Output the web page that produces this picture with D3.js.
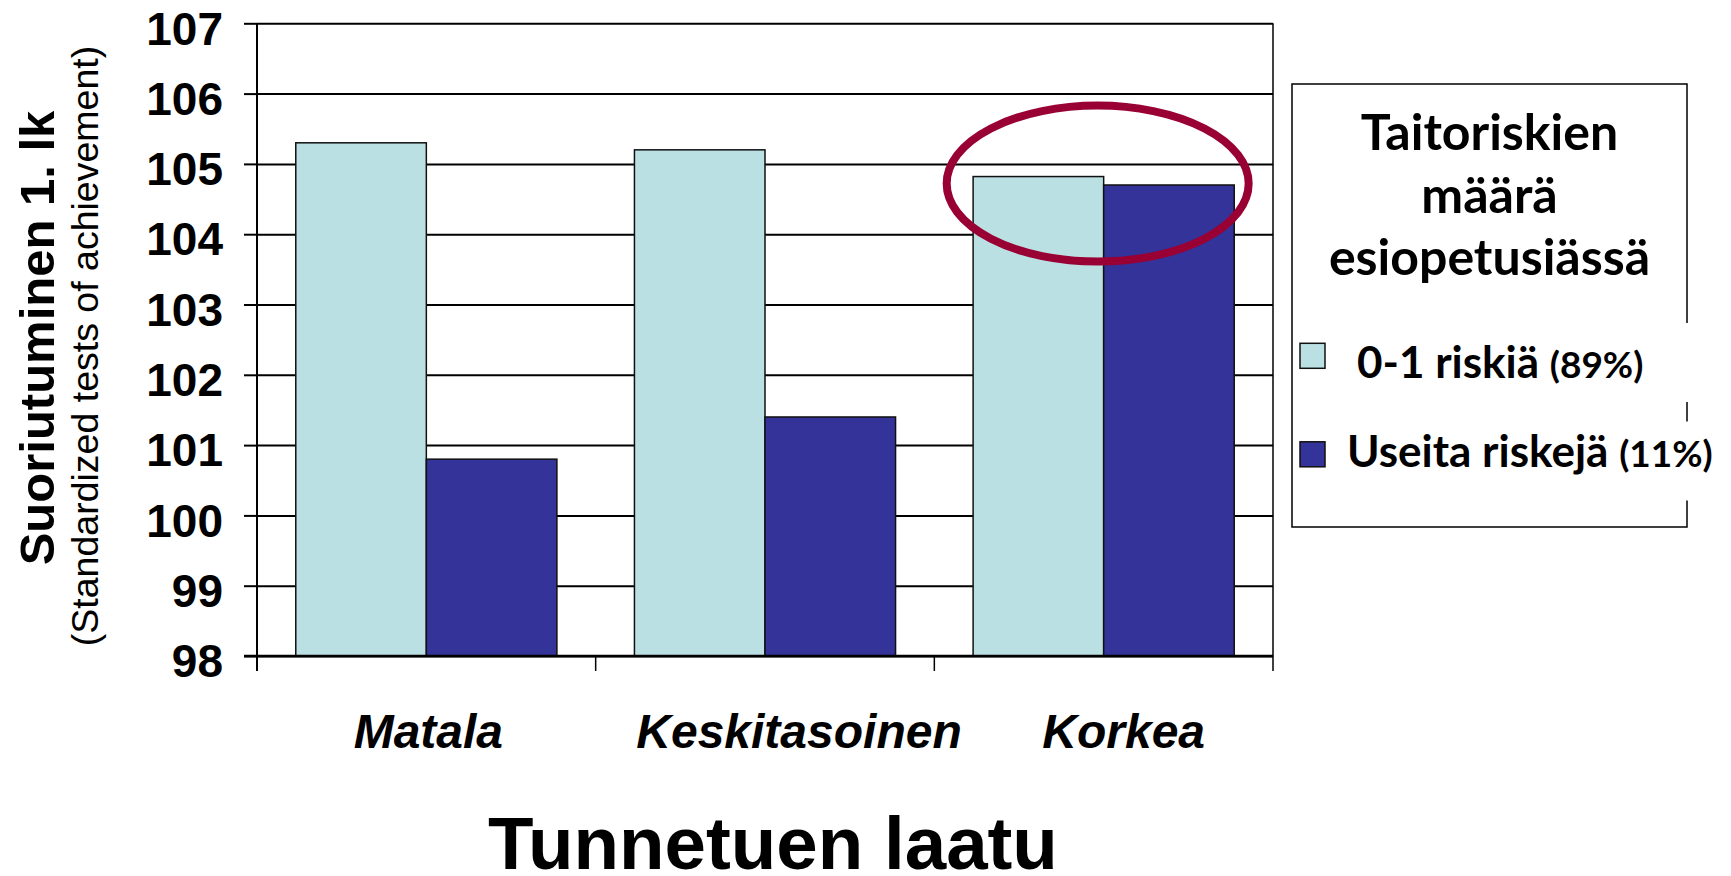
<!DOCTYPE html>
<html lang="fi">
  <head>
    <title>Tunnetuen laatu</title>
    <style>
      html,
      body {
        margin: 0;
        background: #fff;
      }

      svg {
        display: block;
      }
    </style>
    <script src="https://d3js.org/d3.v7.min.js"></script>
  </head>
  <body>
    <svg width="1731" height="876"></svg>

    <script>
      // data
      var categories = ['Matala', 'Keskitasoinen', 'Korkea'];
      var seriesNames = ['0-1 riskiä', 'Useita riskejä'];
      var seriesShares = ['(89%)', '(11%)'];
      var fewRisks = [105.3, 105.2, 104.82];
      var manyRisks = [100.8, 101.4, 104.7];
      var yTicks = [98, 99, 100, 101, 102, 103, 104, 105, 106, 107];
      var colors = ['#bbe0e3', '#333399'];

      var svg = d3.select('svg'),
        plotLeft = 257,
        plotRight = 1273,
        plotTop = 23.3,
        plotBottom = 656;

      var rows = categories.map(function(c, i) {
        return { cat: c, values: [fewRisks[i], manyRisks[i]] };
      });

      var x0 = d3.scaleBand()
        .domain(categories)
        .range([plotLeft, plotRight]);

      var x1 = d3.scaleBand()
        .domain([0, 1])
        .range([0, x0.bandwidth()])
        .paddingOuter(0.297);

      var y = d3.scaleLinear()
        .domain([98, 107])
        .range([plotBottom, plotTop]);

      // gridlines
      svg.append('g')
        .attr('transform', 'translate(' + plotLeft + ',0)')
        .call(d3.axisLeft(y).tickValues(yTicks).tickSize(-(plotRight - plotLeft)).tickFormat(''))
        .call(function(g) {
          g.select('.domain').remove();
          g.selectAll('line').attr('stroke', '#000').attr('stroke-width', 2);
        });

      // right border of plot area
      svg.append('line')
        .attr('x1', plotRight).attr('x2', plotRight)
        .attr('y1', plotTop).attr('y2', plotBottom)
        .attr('stroke', '#000')
        .attr('stroke-width', 1.5);

      // bars
      svg.append('g')
        .selectAll('g')
        .data(rows)
        .enter().append('g')
        .attr('transform', function(d) { return 'translate(' + x0(d.cat) + ',0)'; })
        .selectAll('rect')
        .data(function(d) { return d.values; })
        .enter().append('rect')
        .attr('x', function(d, i) { return x1(i); })
        .attr('width', x1.bandwidth())
        .attr('y', function(d) { return y(d); })
        .attr('height', function(d) { return y(98) - y(d); })
        .attr('fill', function(d, i) { return colors[i]; })
        .attr('stroke', '#111')
        .attr('stroke-width', 1.5);

      // y axis with labels
      svg.append('g')
        .attr('transform', 'translate(' + plotLeft + ',0)')
        .call(d3.axisLeft(y).tickValues(yTicks).tickSize(13).tickPadding(21))
        .call(function(g) {
          g.select('.domain').remove();
          g.selectAll('line').attr('stroke', '#000').attr('stroke-width', 2);
          g.selectAll('text')
            .attr('dy', '0.45em')
            .attr('fill', '#000')
            .style('font', 'bold 46px "Liberation Sans", Arial, sans-serif');
        });

      svg.append('line')
        .attr('x1', plotLeft).attr('x2', plotLeft)
        .attr('y1', plotTop).attr('y2', plotBottom + 15)
        .attr('stroke', '#000')
        .attr('stroke-width', 2);

      // baseline and category boundary ticks
      svg.append('line')
        .attr('x1', plotLeft - 13).attr('x2', plotRight)
        .attr('y1', plotBottom).attr('y2', plotBottom)
        .attr('stroke', '#000')
        .attr('stroke-width', 2.5);

      var bounds = categories.map(function(c) { return x0(c); }).concat([plotRight]);
      svg.append('g')
        .selectAll('line')
        .data(bounds)
        .enter().append('line')
        .attr('x1', function(d) { return d; })
        .attr('x2', function(d) { return d; })
        .attr('y1', plotBottom)
        .attr('y2', plotBottom + 15)
        .attr('stroke', '#000')
        .attr('stroke-width', 1.5);

      // category labels (the slide's labels sit a little right of centre)
      var labelShift = { Matala: 2, Keskitasoinen: 34, Korkea: 20 };
      svg.append('g')
        .attr('transform', 'translate(0,' + plotBottom + ')')
        .call(d3.axisBottom(x0).tickSize(0).tickPadding(58))
        .call(function(g) {
          g.select('.domain').remove();
          g.selectAll('text')
            .attr('dx', function(d) { return labelShift[d]; })
            .attr('fill', '#000')
            .style('font', 'italic bold 48px "Liberation Sans", Arial, sans-serif');
        });

      // axis titles
      svg.append('text')
        .attr('transform', 'translate(54,338) rotate(-90)')
        .attr('text-anchor', 'middle')
        .style('font', 'bold 49px "Liberation Sans", Arial, sans-serif')
        .text('Suoriutuminen 1. lk');

      svg.append('text')
        .attr('transform', 'translate(98,346) rotate(-90)')
        .attr('text-anchor', 'middle')
        .style('font', '37.5px "Liberation Sans", Arial, sans-serif')
        .text('(Standardized tests of achievement)');

      svg.append('text')
        .attr('x', 773)
        .attr('y', 869)
        .attr('text-anchor', 'middle')
        .style('font', 'bold 74.5px "Liberation Sans", Arial, sans-serif')
        .text('Tunnetuen laatu');

      // highlight ellipse round the Korkea bars
      svg.append('ellipse')
        .attr('cx', x0('Korkea') + x0.bandwidth() / 2 - 6)
        .attr('cy', y(104.72))
        .attr('rx', 151)
        .attr('ry', 78)
        .attr('fill', 'none')
        .attr('stroke', '#990033')
        .attr('stroke-width', 8);

      // legend
      var legend = svg.append('g');
      var lx = 1292, ly = 84, lw = 395, lh = 443;

      legend.append('rect')
        .attr('x', lx).attr('y', ly)
        .attr('width', lw).attr('height', lh)
        .attr('fill', '#fff')
        .attr('stroke', '#000')
        .attr('stroke-width', 1.5);

      legend.selectAll('text.title')
        .data(['Taitoriskien', 'määrä', 'esiopetusiässä'])
        .enter().append('text')
        .attr('class', 'title')
        .attr('x', lx + lw / 2)
        .attr('y', function(d, i) { return 150 + i * 62.5; })
        .attr('text-anchor', 'middle')
        .style('font', 'bold 50px Lato, "Open Sans", sans-serif')
        .text(function(d) { return d; });

      var item = legend.selectAll('g.item')
        .data(seriesNames)
        .enter().append('g')
        .attr('class', 'item')
        .attr('transform', function(d, i) { return 'translate(0,' + (i * 98.5) + ')'; });

      // white row background that runs over the box's right edge
      item.append('rect')
        .attr('x', lx + 30).attr('y', 323)
        .attr('width', 410).attr('height', 79)
        .attr('fill', '#fff');

      item.append('rect')
        .attr('x', 1300).attr('y', 343.3)
        .attr('width', 25).attr('height', 25)
        .attr('fill', function(d, i) { return colors[i]; })
        .attr('stroke', '#111')
        .attr('stroke-width', 1.5);

      var label = item.append('text')
        .attr('x', function(d, i) { return i === 0 ? 1357 : 1347; })
        .attr('y', function(d, i) { return i === 0 ? 378 : 368.5; })
        .style('font', 'bold 44px Lato, "Open Sans", sans-serif')
        .text(function(d) { return d + ' '; });

      label.append('tspan')
        .style('font-size', '37px')
        .text(function(d, i) { return seriesShares[i]; });
    </script>
  </body>
</html>
